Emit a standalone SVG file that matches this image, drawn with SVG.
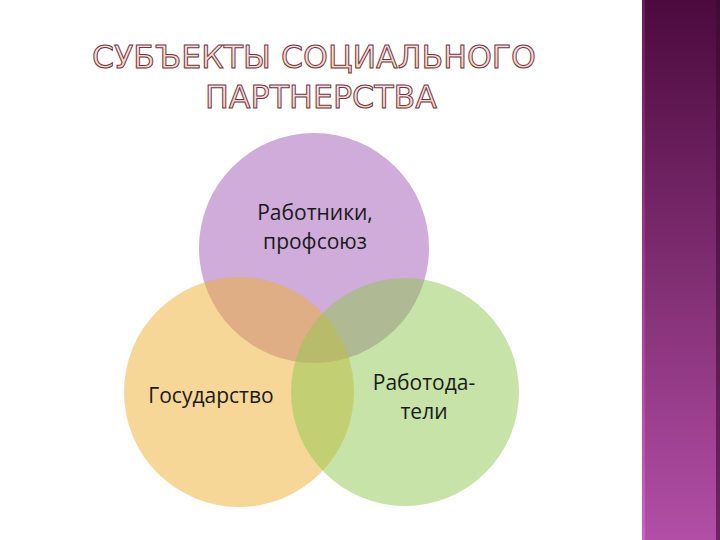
<svg xmlns="http://www.w3.org/2000/svg" width="720" height="540" viewBox="0 0 720 540">
<defs>
<linearGradient id="bar" x1="0" y1="0" x2="0" y2="1">
<stop offset="0" stop-color="#4c0a3e"/>
<stop offset="0.45" stop-color="#7a2a6c"/>
<stop offset="1" stop-color="#b24ea6"/>
</linearGradient>
<linearGradient id="edge" x1="0" y1="0" x2="0" y2="1">
<stop offset="0" stop-color="#6a1a5a"/>
<stop offset="1" stop-color="#d060c0"/>
</linearGradient>
<linearGradient id="title" x1="0" y1="0" x2="0" y2="1">
<stop offset="0" stop-color="#fde8f2"/>
<stop offset="1" stop-color="#f8cfa2"/>
</linearGradient>
<style>
.t{font-family:"DejaVu Sans","Liberation Sans",sans-serif;font-size:32px;fill:url(#title);stroke:#6e3446;stroke-width:1;text-anchor:middle}
.l{font-family:"Open Sans","Liberation Sans",sans-serif;font-size:21px;fill:#1a1a1a;text-anchor:middle}
.c{fill-opacity:0.5}
</style>
</defs>
<rect width="720" height="540" fill="#ffffff"/>
<g id="sidebar">
<rect x="642" y="0" width="78" height="540" fill="url(#bar)"/>
<rect x="642" y="0" width="3" height="540" fill="url(#edge)"/>
<rect x="716" y="0" width="4" height="540" fill="#3a0a30" opacity="0.6"/>
</g>
<g id="title-text">
<text class="t" x="314" y="68" textLength="444" lengthAdjust="spacingAndGlyphs">СУБЪЕКТЫ СОЦИАЛЬНОГО</text>
<text class="t" x="321" y="108" textLength="232" lengthAdjust="spacingAndGlyphs">ПАРТНЕРСТВА</text>
</g>
<g id="workers">
<circle class="c" cx="314" cy="248" r="115" fill="#a05ab5"/>
</g>
<g id="state">
<circle class="c" cx="239" cy="392" r="115" fill="#f0b030"/>
</g>
<g id="employers">
<circle class="c" cx="405" cy="392" r="114" fill="#90c850"/>
</g>
<g id="labels">
<text class="l" x="315" y="220">Работники,</text>
<text class="l" x="315" y="249">профсоюз</text>
<text class="l" x="211" y="403">Государство</text>
<text class="l" x="424" y="390">Работода-</text>
<text class="l" x="424" y="419">тели</text>
</g>
</svg>
